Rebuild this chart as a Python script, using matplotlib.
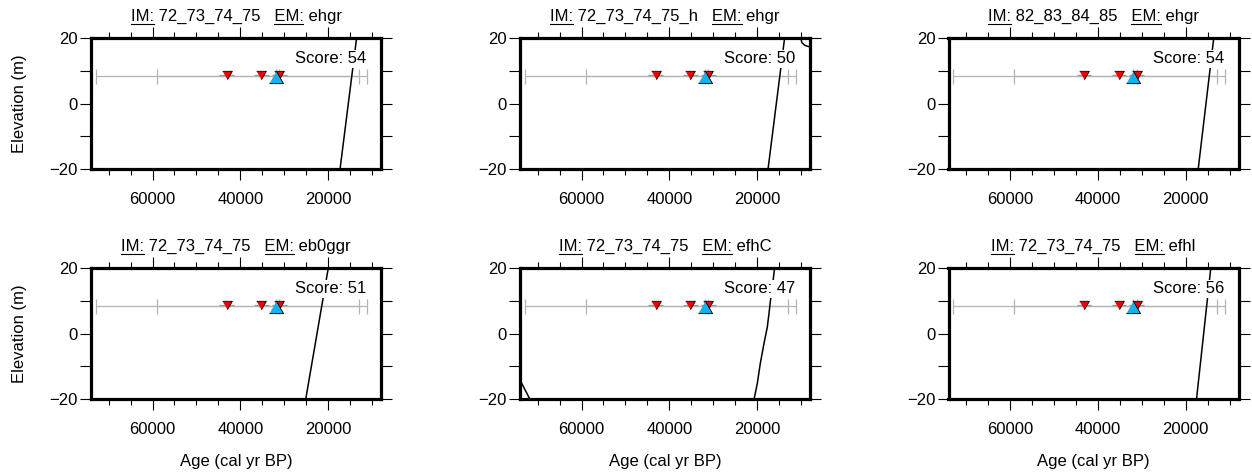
import matplotlib
matplotlib.use('Agg')
import matplotlib.pyplot as plt
from matplotlib.ticker import MultipleLocator
from matplotlib.lines import Line2D

plt.rcParams['font.family'] = ['Liberation Sans', 'DejaVu Sans']
FS = 12
plt.rcParams['font.size'] = FS

# ---------------- data ----------------
ice_models = ["72_73_74_75", "72_73_74_75_h", "82_83_84_85",
              "72_73_74_75", "72_73_74_75", "72_73_74_75"]
earth_models = ["ehgr", "ehgr", "ehgr", "eb0ggr", "efhC", "efhl"]
scores = [54, 50, 54, 51, 47, 56]

# limiting observations (red, inverted triangles)
red_age = [43160, 35200, 31200]
red_elev = [8.6, 8.6, 8.6]
red_age_err = [1700, 1700, 1700]

# index observation (blue triangle)
blue_age = [31950]
blue_elev = [8.0]

# age ranges drawn as grey capped bars
range_lo = [11100, 13000, 31150]
range_hi = [72900, 59000, 32000]
range_elev = [8.5, 8.5, 8.5]

# model predicted relative sea level curves (one or more segments per panel)
curve_age = [
    [[17330, 13545]],
    [[17560, 13770], [10200, 10136, 9840, 9300, 8840, 8000]],
    [[17180, 13620]],
    [[25140, 19985], [74200, 73800, 73200]],
    [[20742, 19985, 19303, 18470, 17712, 17333, 17030, 16576, 16045],
     [74000, 71730]],
    [[17560, 14300]],
]
curve_elev = [
    [[-20, 20]],
    [[-20, 20], [20.6, 20.0, 18.5, 17.8, 17.5, 17.2]],
    [[-20, 20]],
    [[-20, 20], [-18.6, -19.5, -20.3]],
    [[-20, -15.1, -9.0, -3.0, 2.0, 6.1, 9.7, 14.2, 20], [-14.1, -20]],
    [[-20, 20]],
]

xlim = (74000, 8000)
ylim = (-20, 20)

# ---------------- layout ----------------
W, H = 1252, 475
fig = plt.figure(figsize=(W / 100, H / 100), dpi=100)

col_left = [91, 520, 948.5]
row_top = [37.7, 267.7]
ax_w, ax_h = 290, 131.7

red_c = '#ee0000'
blue_c = '#1aaeea'
grey_c = '#b4b4b4'

tri_down = [(-1, 0.866), (1, 0.866), (0, -0.866)]
tri_up = [(-1, -0.866), (1, -0.866), (0, 0.866)]

axes = []
for i in range(6):
    r, c = divmod(i, 3)
    left = col_left[c] / W
    bottom = 1 - (row_top[r] + ax_h) / H
    ax = fig.add_axes([left, bottom, ax_w / W, ax_h / H])
    axes.append(ax)

    ax.set_xlim(*xlim)
    ax.set_ylim(*ylim)

    # grey age ranges
    for lo, hi, el in zip(range_lo, range_hi, range_elev):
        mid = (lo + hi) / 2
        ax.errorbar([mid], [el], xerr=[[mid - lo], [hi - mid]], fmt='none',
                    ecolor=grey_c, elinewidth=0.9, capsize=5.4,
                    capthick=0.9, zorder=2)
    # short uncertainty segments of limiting points
    ax.errorbar(red_age, red_elev, xerr=red_age_err, fmt='none',
                ecolor='#9a9a9a', elinewidth=0.9, capsize=0, zorder=2.1)

    # model curves
    for xs, ys in zip(curve_age[i], curve_elev[i]):
        ax.plot(xs, ys, color='black', lw=1.1, zorder=3,
                solid_capstyle='butt')

    # markers
    ax.plot(red_age, red_elev, linestyle='none', marker=tri_down,
            markersize=7.0, markerfacecolor=red_c, markeredgecolor='black',
            markeredgewidth=0.6, zorder=4)
    ax.plot(blue_age, blue_elev, linestyle='none', marker=tri_up,
            markersize=10.2, markerfacecolor=blue_c, markeredgecolor='black',
            markeredgewidth=0.6, zorder=5)

    # score
    ax.text(0.95, 0.805, f"Score: {scores[i]}", transform=ax.transAxes,
            ha='right', va='baseline', fontsize=FS, zorder=6,
            bbox=dict(facecolor='white', edgecolor='none', pad=1.2))

    # ticks
    ax.xaxis.set_major_locator(MultipleLocator(20000))
    ax.xaxis.set_minor_locator(MultipleLocator(5000))
    ax.yaxis.set_major_locator(MultipleLocator(10))
    ax.yaxis.set_major_formatter(
        plt.FuncFormatter(lambda v, p: (f"{int(v)}" if v >= 0 else f"\u2212{int(-v)}")
                          if abs(v) % 20 == 0 else ""))
    ax.tick_params(axis='both', which='both', direction='out',
                   top=True, right=True, width=0.8, colors='black')
    ax.tick_params(axis='x', which='major', length=8, pad=8.0, labelsize=FS)
    ax.tick_params(axis='x', which='minor', length=4)
    ax.tick_params(axis='y', which='major', length=8, pad=1.5, labelsize=FS)
    for s in ax.spines.values():
        s.set_linewidth(2.3)
        s.set_zorder(7)

    # title (IM / EM)
    ax.annotate(f"IM: {ice_models[i]}   EM: {earth_models[i]}",
                xy=(0.5, 1), xycoords='axes fraction',
                xytext=(0, 16.5 * 0.72), textcoords='offset points',
                ha='center', va='baseline', fontsize=FS)

# axis labels
for r in range(2):
    yc = 1 - (row_top[r] + ax_h / 2) / H
    fig.text(19.5 / W, yc, "Elevation (m)", rotation=90,
             ha='center', va='center', fontsize=FS)
for c in range(3):
    xc = (col_left[c] + ax_w / 2) / W
    fig.text(xc, 1 - 461.5 / H, "Age (cal yr BP)", ha='center',
             va='center', fontsize=FS)

# underline "IM:" and "EM:" in titles
fig.canvas.draw()
rend = fig.canvas.get_renderer()


def text_width(s):
    t = fig.text(0, 0, s, fontsize=FS)
    w = t.get_window_extent(rend).width
    t.remove()
    return w


inv = fig.transFigure.inverted()
for i, ax in enumerate(axes):
    full = f"IM: {ice_models[i]}   EM: {earth_models[i]}"
    w_full = text_width(full)
    bb = ax.get_window_extent(rend)
    top = bb.y1
    xc = (bb.x0 + bb.x1) / 2
    x0 = xc - w_full / 2
    y_ul = top + 16.5 - 2.8
    w_im = text_width("IM:")
    w_em = text_width("EM:")
    em_start = x0 + text_width(f"IM: {ice_models[i]}   EM:") - w_em
    for a, b in [(x0, x0 + w_im), (em_start, em_start + w_em)]:
        (fa, fy), (fb, _) = inv.transform([(a, y_ul), (b, y_ul)])
        fig.add_artist(Line2D([fa, fb], [fy, fy], color='black', lw=0.8,
                              transform=fig.transFigure))

fig.savefig('out.png', dpi=100, facecolor='white')
